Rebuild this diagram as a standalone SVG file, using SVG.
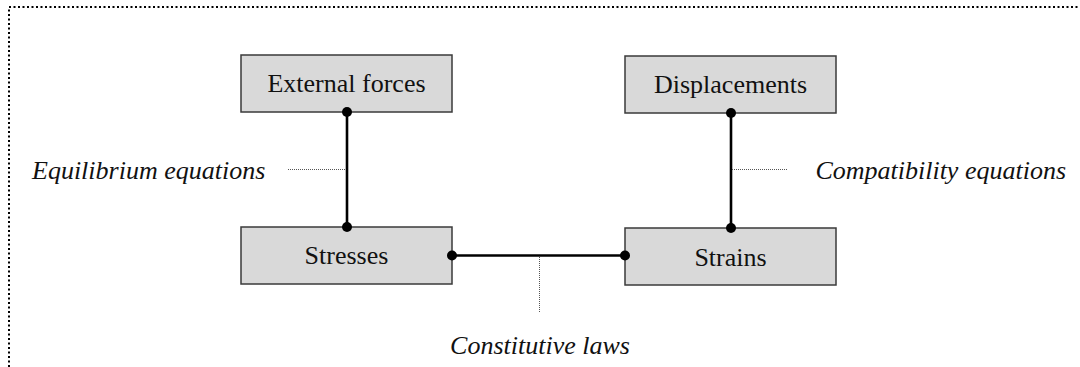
<svg xmlns="http://www.w3.org/2000/svg" width="1080" height="367" viewBox="0 0 1080 367">
<style>
.box{fill:#d9d9d9;stroke:#3a3a3a;stroke-width:1.5}
.lbl{font-family:"Liberation Serif","Times New Roman",serif;font-size:26px;fill:#111;text-anchor:middle}
.ital{font-family:"Liberation Serif","Times New Roman",serif;font-size:26px;font-style:italic;fill:#111}
.conn{stroke:#000;stroke-width:2.6;fill:none}
.lead{stroke:#555;stroke-width:1;stroke-dasharray:1 1;fill:none}
.dot{fill:#000}
.frame{stroke:#000;stroke-width:2;stroke-dasharray:2 2.5;fill:none}
</style>
<rect width="1080" height="367" fill="#fff"/>
<path class="frame" d="M9,367 V7 H1080"/>
<g id="external-forces"><rect class="box" x="241" y="55" width="211" height="57"/><text class="lbl" x="346.5" y="92">External forces</text></g>
<g id="displacements"><rect class="box" x="625" y="56" width="211" height="57"/><text class="lbl" x="730.5" y="93">Displacements</text></g>
<g id="stresses"><rect class="box" x="241" y="227" width="211" height="57"/><text class="lbl" x="346.5" y="264">Stresses</text></g>
<g id="strains"><rect class="box" x="625" y="228" width="211" height="57"/><text class="lbl" x="730.5" y="266">Strains</text></g>
<g id="connectors">
<line class="conn" x1="347" y1="112" x2="347" y2="227"/>
<line class="conn" x1="731" y1="113" x2="731" y2="228"/>
<line class="conn" x1="452" y1="255.5" x2="625" y2="255.5"/>
<circle class="dot" cx="347" cy="112" r="5"/>
<circle class="dot" cx="347" cy="227" r="5"/>
<circle class="dot" cx="731" cy="113" r="5"/>
<circle class="dot" cx="731" cy="228" r="5"/>
<circle class="dot" cx="452" cy="255.5" r="5"/>
<circle class="dot" cx="625" cy="255.5" r="5"/>
<line class="lead" x1="288" y1="169.5" x2="346" y2="169.5"/>
<line class="lead" x1="732" y1="169.5" x2="788" y2="169.5"/>
<line class="lead" x1="539.5" y1="257" x2="539.5" y2="313"/>
</g>
<g id="labels">
<text class="ital" x="32" y="179">Equilibrium equations</text>
<text class="ital" x="1066" y="179" text-anchor="end">Compatibility equations</text>
<text class="ital" x="540" y="354" text-anchor="middle">Constitutive laws</text>
</g>
</svg>
